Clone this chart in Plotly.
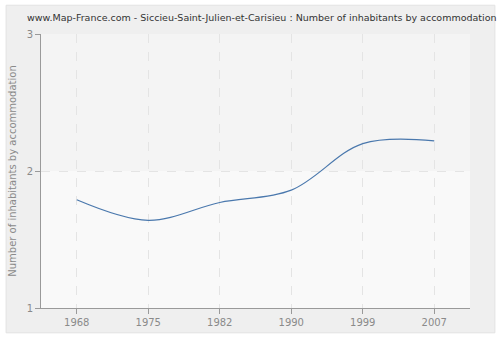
import plotly.graph_objects as go

# Census years and average number of inhabitants per accommodation
years = ["1968", "1975", "1982", "1990", "1999", "2007"]
inhabitants = [1.79, 1.64, 1.77, 1.86, 2.20, 2.22]
y_ticks = [1, 2, 3]

title_text = ("www.Map-France.com - Siccieu-Saint-Julien-et-Carisieu : "
              "Number of inhabitants by accommodation")

fig = go.Figure()
fig.add_trace(go.Scatter(
    x=years, y=inhabitants, mode="lines",
    line=dict(color="#4a78ad", width=1.2, shape="spline", smoothing=1.0),
    hoverinfo="x+y", showlegend=False,
))

grey_font = dict(family="DejaVu Sans", size=10, color="#8a8a8a")

fig.update_layout(
    width=500, height=340,
    margin=dict(l=40, r=30, t=34, b=30),
    paper_bgcolor="#ffffff",
    plot_bgcolor="#f9f9f9",
    title=dict(text=title_text, x=27 / 500, xanchor="left", xref="container",
               y=1 - 18 / 340, yanchor="middle", yref="container",
               font=dict(family="DejaVu Sans", size=9.5, color="#333333")),
    xaxis=dict(
        type="category", range=[-0.5, 5.5],
        showgrid=True, gridcolor="#e4e4e4", griddash="dash", gridwidth=1,
        showline=True, linecolor="#9a9a9a", linewidth=1,
        ticks="outside", ticklen=5, tickcolor="#9a9a9a",
        tickfont=grey_font, zeroline=False, fixedrange=True,
    ),
    yaxis=dict(
        range=[1, 3], tickvals=y_ticks,
        showgrid=True, gridcolor="#e4e4e4", griddash="dash", gridwidth=1,
        showline=True, linecolor="#9a9a9a", linewidth=1,
        ticks="outside", ticklen=5, tickcolor="#9a9a9a",
        tickfont=grey_font, zeroline=False, fixedrange=True,
        title=dict(text="Number of inhabitants by accommodation",
                   font=dict(family="DejaVu Sans", size=10, color="#8a8a8a"),
                   standoff=8),
    ),
    shapes=[
        # outer light-grey panel behind the chart
        dict(type="rect", xref="paper", yref="paper", layer="below",
             x0=-0.0814, x1=1.058, y0=-0.0906, y1=1.105,
             fillcolor="#efefef", line=dict(color="#e2e2e2", width=1)),
        # plot area background
        dict(type="rect", xref="paper", yref="paper", layer="below",
             x0=0, x1=1, y0=0, y1=1,
             fillcolor="#f9f9f9", line=dict(width=0)),
        # slightly darker upper band above y = 2
        dict(type="rect", xref="paper", yref="y", layer="below",
             x0=0, x1=1, y0=2, y1=3,
             fillcolor="#f4f4f4", line=dict(width=0)),
    ],
)

fig.write_html("out.html")
